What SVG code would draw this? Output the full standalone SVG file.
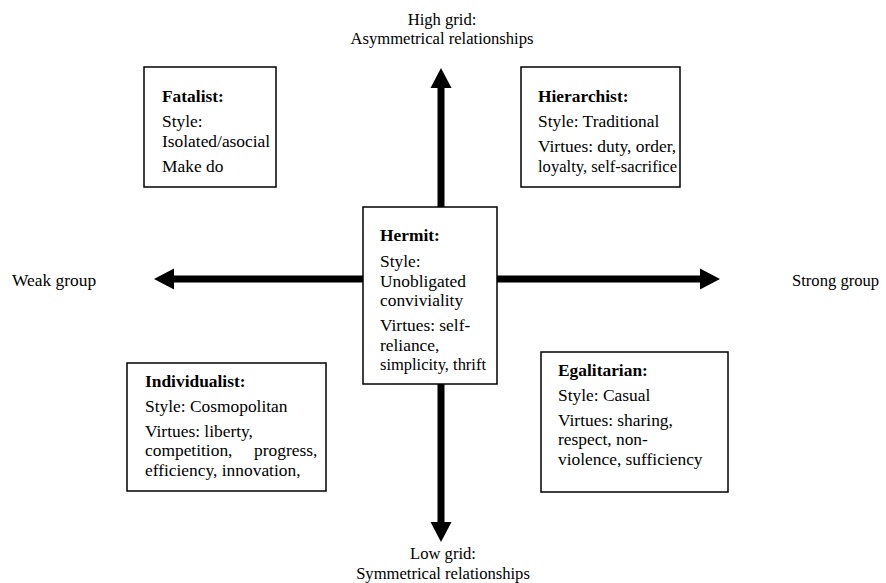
<svg xmlns="http://www.w3.org/2000/svg" width="886" height="583" viewBox="0 0 886 583">
<style>
text{font-family:'Liberation Serif','DejaVu Serif',serif;font-size:17.4px;fill:#000}
.ax{font-size:16.6px}
.b{font-weight:bold}
.m{text-anchor:middle}
rect.box{fill:#fff;stroke:#000;stroke-width:1.5}
.shaft{stroke:#000;stroke-width:7;fill:none}
.head{fill:#000}
</style>
<rect width="886" height="583" fill="#fff"/>
<g id="connectors">
<line class="shaft" x1="441" y1="86" x2="441" y2="524"/>
<polygon class="head" points="441,68 430.5,88 451.5,88"/>
<polygon class="head" points="441,542 430.5,522 451.5,522"/>
<line class="shaft" x1="172" y1="279" x2="702" y2="279"/>
<polygon class="head" points="154,279 174,268.5 174,289.5"/>
<polygon class="head" points="720,279 700,268.5 700,289.5"/>
</g>
<g id="axis-labels">
<text class="ax m" x="442" y="25">High grid:</text>
<text class="ax m" x="442" y="44">Asymmetrical relationships</text>
<text class="ax" x="12" y="286" style="font-size:17.4px">Weak group</text>
<text class="ax" x="792" y="286">Strong group</text>
<text class="ax m" x="443" y="559">Low grid:</text>
<text class="ax m" x="443" y="579">Symmetrical relationships</text>
</g>
<g id="fatalist">
<rect class="box" x="144" y="67" width="132" height="120"/>
<text class="b" x="162" y="102">Fatalist:</text>
<text x="162" y="127">Style:</text>
<text x="162" y="147">Isolated/asocial</text>
<text x="162" y="172">Make do</text>
</g>
<g id="hierarchist">
<rect class="box" x="521" y="67" width="159" height="120"/>
<text class="b" x="538" y="102">Hierarchist:</text>
<text x="538" y="127">Style: Traditional</text>
<text x="538" y="152">Virtues: duty, order,</text>
<text x="538" y="172" textLength="139" lengthAdjust="spacingAndGlyphs">loyalty, self-sacrifice</text>
</g>
<g id="hermit">
<rect class="box" x="363" y="207" width="134" height="177"/>
<text class="b" x="380" y="241">Hermit:</text>
<text x="380" y="267">Style:</text>
<text x="380" y="287">Unobligated</text>
<text x="380" y="306">conviviality</text>
<text x="380" y="331">Virtues: self-</text>
<text x="380" y="351">reliance,</text>
<text x="380" y="370" textLength="106" lengthAdjust="spacingAndGlyphs">simplicity, thrift</text>
</g>
<g id="individualist">
<rect class="box" x="127" y="363" width="199" height="128"/>
<text class="b" x="145" y="387">Individualist:</text>
<text x="145" y="412">Style: Cosmopolitan</text>
<text x="145" y="437">Virtues: liberty,</text>
<text x="145" y="456">competition,<tspan x="254">progress,</tspan></text>
<text x="145" y="476">efficiency, innovation,</text>
</g>
<g id="egalitarian">
<rect class="box" x="541" y="352" width="187" height="140"/>
<text class="b" x="558" y="376">Egalitarian:</text>
<text x="558" y="401">Style: Casual</text>
<text x="558" y="426">Virtues: sharing,</text>
<text x="558" y="445">respect, non-</text>
<text x="558" y="465">violence, sufficiency</text>
</g>
</svg>
